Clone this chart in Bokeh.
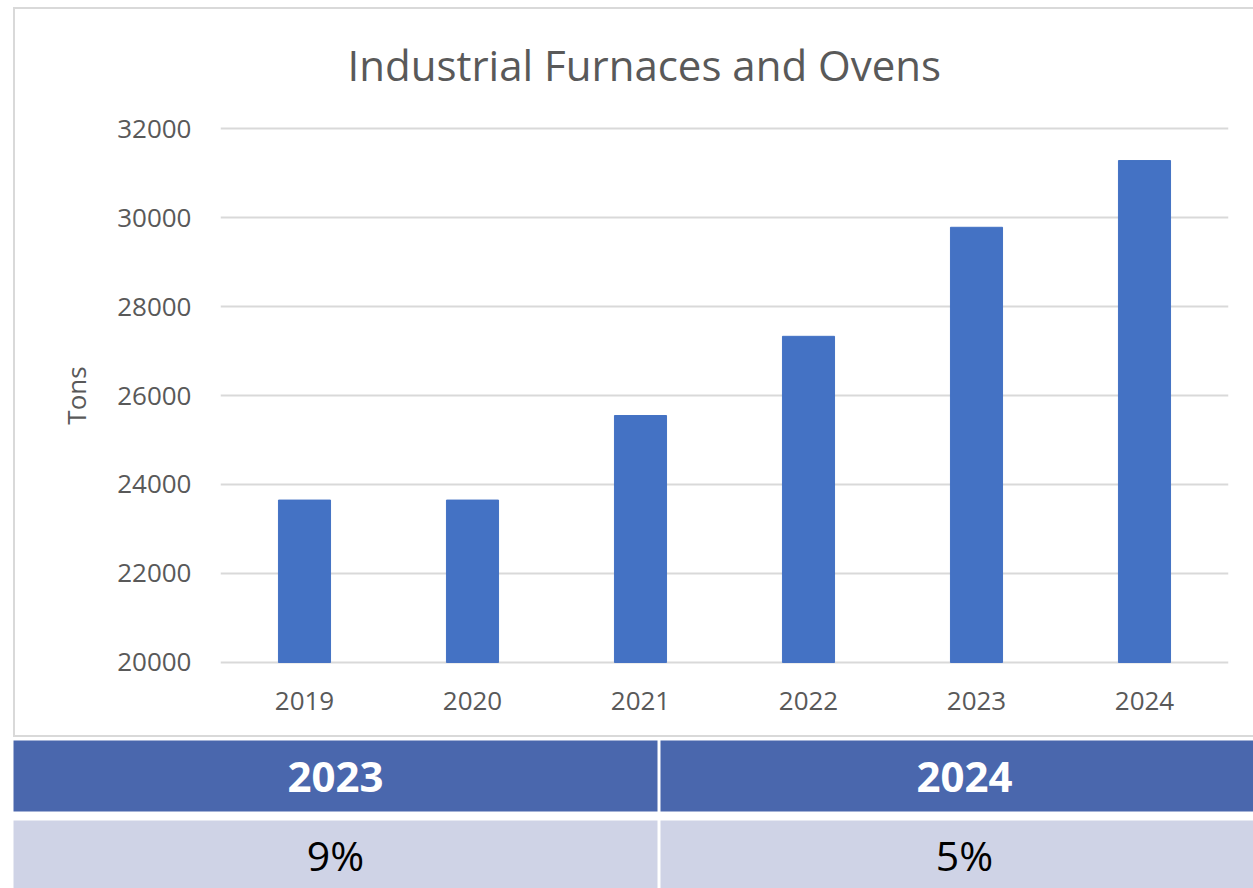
from bokeh.plotting import figure
from bokeh.models import FactorRange, Range1d, FixedTicker
from bokeh.layouts import column
from bokeh.embed import file_html
from bokeh.resources import INLINE
from bokeh.core.properties import value

# ---- data ----
years = ["2019", "2020", "2021", "2022", "2023", "2024"]
tons = [23650, 23650, 25550, 27330, 29780, 31280]
y_ticks = [20000, 22000, 24000, 26000, 28000, 30000, 32000]
growth_years = ["2023", "2024"]
growth_pct = ["9%", "5%"]
title_text = "Industrial Furnaces and Ovens"
y_label = "Tons"

# ---- layout constants ----
W = 1253
H1 = 739
H2 = 149
FONT = "Open Sans"
GRAY = "#595959"
GRID = "#d9d9d9"

pad = 45  # small data padding so edge gridlines are not clipped
p = figure(width=W, height=H1,
           x_range=FactorRange(factors=years, range_padding=0),
           y_range=Range1d(y_ticks[0] - pad, y_ticks[-1] + pad),
           output_backend="svg", toolbar_location=None,
           min_border_left=220, min_border_right=25,
           min_border_top=126, min_border_bottom=75)
p.outline_line_color = None
p.background_fill_color = "white"
p.border_fill_color = None
line = "linear-gradient(#d9d9d9,#d9d9d9)"
p.styles = {"background": (f"{line} 13px 7px / 2px 730px no-repeat, "
                           f"{line} 13px 7px / 1240px 2px no-repeat, "
                           f"{line} 13px 735px / 1240px 2px no-repeat, white")}

p.vbar(x=years, top=tons, bottom=y_ticks[0], width=0.31, color="#4472c4")

p.xgrid.visible = False
p.ygrid.grid_line_color = GRID
p.ygrid.grid_line_width = 2

p.yaxis.ticker = FixedTicker(ticks=y_ticks)
for ax in (p.xaxis[0], p.yaxis[0]):
    ax.axis_line_color = None
    ax.major_tick_line_color = None
    ax.minor_tick_line_color = None
    ax.major_tick_out = 0
    ax.major_tick_in = 0
    ax.major_label_text_font = FONT
    ax.major_label_text_font_size = "26px"
    ax.major_label_text_color = GRAY
p.yaxis.major_label_standoff = 29
p.xaxis.major_label_standoff = 27
p.yaxis.axis_label = y_label
p.yaxis.axis_label_text_font = FONT
p.yaxis.axis_label_text_font_size = "26px"
p.yaxis.axis_label_text_font_style = "normal"
p.yaxis.axis_label_text_color = GRAY
p.yaxis.axis_label_standoff = 20

p.title.text = title_text
p.title.align = "left"
p.title.offset = 127
p.title.standoff = 67
p.title.text_font = FONT
p.title.text_font_size = "42px"
p.title.text_font_style = "normal"
p.title.text_color = GRAY

# ---- table ----
t = figure(width=W, height=H2, x_range=Range1d(0, W), y_range=Range1d(H2, 0),
           output_backend="svg", toolbar_location=None,
           x_axis_location=None, y_axis_location=None, min_border=0)
t.grid.visible = False
t.outline_line_color = None
t.border_fill_color = "white"
t.background_fill_color = "white"

col_left = [13, 660]
col_right = [657, 1268]
centers = [(a + b) / 2 for a, b in zip(col_left, col_right)]
t.quad(left=col_left, right=col_right, top=[1, 1], bottom=[72, 72],
       fill_color="#4a67ad", line_color=None)
t.quad(left=col_left, right=col_right, top=[81, 81], bottom=[150, 150],
       fill_color="#cfd3e6", line_color=None)
t.text(x=centers, y=[37.5, 37.5], text=growth_years, text_font=value(FONT),
       text_font_size="42px", text_font_style="bold", text_color="white",
       text_align="center", text_baseline="middle")
t.text(x=centers, y=[115, 115], text=growth_pct, text_font=value(FONT),
       text_font_size="41px", text_color="black",
       text_align="center", text_baseline="middle")

if "frame_align" in p.properties():
    p.frame_align = False
    t.frame_align = False
    root = column(p, t, spacing=0)
else:
    root = [p, t]
open("out.html", "w").write(file_html(root, INLINE))
